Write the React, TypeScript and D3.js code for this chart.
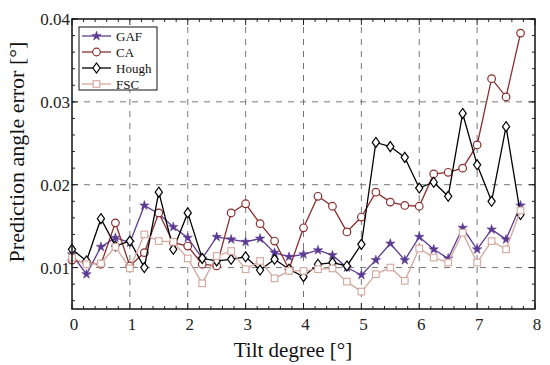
import * as d3 from "d3";

const tilt = d3.range(32).map((i) => i * 0.25);

const gaf = [
  0.0116, 0.0092, 0.0125, 0.0136, 0.013, 0.0175, 0.0165, 0.0149, 0.0136, 0.0111,
  0.0137, 0.0134, 0.0131, 0.0135, 0.0118, 0.0113, 0.0116, 0.0121, 0.0115, 0.01,
  0.0091, 0.0109, 0.0129, 0.0109, 0.0137, 0.0122, 0.0111, 0.0148, 0.0122, 0.0146,
  0.0134, 0.0175,
];
const ca = [
  0.0109, 0.0106, 0.0104, 0.0154, 0.0102, 0.0118, 0.0166, 0.013, 0.0126, 0.0104,
  0.0102, 0.0166, 0.0177, 0.0153, 0.0132, 0.0098, 0.0148, 0.0186, 0.0174, 0.0143,
  0.0161, 0.0191, 0.0179, 0.0175, 0.0174, 0.0213, 0.0215, 0.022, 0.0248, 0.0328,
  0.0306, 0.0383,
];
const hough = [
  0.0122, 0.0108, 0.0159, 0.0126, 0.0132, 0.01, 0.0191, 0.0122, 0.0166, 0.0111,
  0.0108, 0.011, 0.0113, 0.0097, 0.011, 0.0098, 0.0089, 0.0104, 0.0106, 0.0102,
  0.0128, 0.0251, 0.0246, 0.0233, 0.0196, 0.0203, 0.0186, 0.0286, 0.0224, 0.018,
  0.027, 0.0164,
];
const fsc = [
  0.0112, 0.0104, 0.0105, 0.0125, 0.0099, 0.014, 0.0132, 0.0131, 0.0111, 0.0081,
  0.0114, 0.012, 0.0098, 0.0108, 0.0087, 0.0096, 0.0096, 0.0098, 0.0099, 0.0083,
  0.0071, 0.0092, 0.01, 0.0084, 0.0123, 0.0112, 0.0106, 0.0142, 0.0106, 0.0132,
  0.0122, 0.0169,
];

const xTicks = [0, 1, 2, 3, 4, 5, 6, 7, 8];
const yTicks = [0.01, 0.02, 0.03, 0.04];

const series = [
  { name: "GAF", values: gaf, color: "#5b3a93", marker: "star" },
  { name: "CA", values: ca, color: "#8a2e2e", marker: "circle" },
  { name: "Hough", values: hough, color: "#000000", marker: "diamond" },
  { name: "FSC", values: fsc, color: "#d3a79e", marker: "square" },
];

const W = 550;
const H = 365;
const m = { left: 72, right: 15, top: 19, bottom: 56 };
const font = "'Liberation Serif', 'DejaVu Serif', serif";

const Marker = ({ type, x, y, color }: { type: string; x: number; y: number; color: string }) => {
  if (type === "star") {
    const p = d3.symbol().type(d3.symbolStar).size(28)();
    return <path d={p!} transform={`translate(${x},${y})`} fill={color} stroke={color} strokeWidth={0.5} />;
  }
  if (type === "circle") {
    return <circle cx={x} cy={y} r={3.8} fill="white" stroke={color} strokeWidth={1.2} />;
  }
  if (type === "diamond") {
    return (
      <path
        d={`M${x},${y - 5}L${x + 3.6},${y}L${x},${y + 5}L${x - 3.6},${y}Z`}
        fill="white"
        stroke={color}
        strokeWidth={1.2}
      />
    );
  }
  return <rect x={x - 3.3} y={y - 3.3} width={6.6} height={6.6} fill="white" stroke={color} strokeWidth={1.1} />;
};

const App = () => {
  const x = d3.scaleLinear().domain([0, 8]).range([m.left, W - m.right]);
  const y = d3.scaleLinear().domain([0.005, 0.04]).range([H - m.bottom, m.top]);
  const line = d3
    .line<number>()
    .x((_, i) => x(tilt[i]))
    .y((d) => y(d));

  const xMinor = d3.range(0, 8.01, 0.2);
  const yMinor = d3.range(0.006, 0.0401, 0.002);
  const x0 = x.range()[0];
  const x1 = x.range()[1];
  const y0 = y.range()[0];
  const y1 = y.range()[1];

  return (
    <svg width={W} height={H} style={{ position: "absolute", left: 0, top: 0, background: "white" }}>
      {/* grid */}
      {xTicks.slice(1, -1).map((t) => (
        <line key={"gx" + t} x1={x(t)} x2={x(t)} y1={y0} y2={y1} stroke="#777" strokeDasharray="6,6" strokeWidth={1} />
      ))}
      {yTicks.slice(0, -1).map((t) => (
        <line key={"gy" + t} x1={x0} x2={x1} y1={y(t)} y2={y(t)} stroke="#777" strokeDasharray="6,6" strokeWidth={1} />
      ))}

      {/* minor ticks */}
      {xMinor.map((t, i) => (
        <g key={"xm" + i} stroke="#222" strokeWidth={1}>
          <line x1={x(t)} x2={x(t)} y1={y0} y2={y0 - (i % 5 === 0 ? 6 : 3)} />
          <line x1={x(t)} x2={x(t)} y1={y1} y2={y1 + (i % 5 === 0 ? 6 : 3)} />
        </g>
      ))}
      {yMinor.map((t, i) => (
        <g key={"ym" + i} stroke="#222" strokeWidth={1}>
          <line x1={x0} x2={x0 + 3} y1={y(t)} y2={y(t)} />
          <line x1={x1} x2={x1 - 3} y1={y(t)} y2={y(t)} />
        </g>
      ))}
      {yTicks.map((t) => (
        <g key={"ym2" + t} stroke="#222" strokeWidth={1}>
          <line x1={x0} x2={x0 + 6} y1={y(t)} y2={y(t)} />
          <line x1={x1} x2={x1 - 6} y1={y(t)} y2={y(t)} />
        </g>
      ))}

      {/* series */}
      {series.map((s) => (
        <g key={s.name}>
          <path d={line(s.values)!} fill="none" stroke={s.color} strokeWidth={1.3} />
          {s.values.map((v, i) => (
            <Marker key={i} type={s.marker} x={x(tilt[i])} y={y(v)} color={s.color} />
          ))}
        </g>
      ))}

      <rect x={x0} y={y1} width={x1 - x0} height={y0 - y1} fill="none" stroke="#111" strokeWidth={1.5} />

      {/* tick labels */}
      {xTicks.map((t) => (
        <text key={"xl" + t} x={x(t) + 2} y={y0 + 21} textAnchor="middle" fontFamily={font} fontSize={17} fill="#222">
          {t}
        </text>
      ))}
      {yTicks.map((t) => (
        <text key={"yl" + t} x={x0 - 2} y={y(t) + 6} textAnchor="end" fontFamily={font} fontSize={17} fill="#222">
          {t.toFixed(2)}
        </text>
      ))}

      <text x={293} y={H - 8} textAnchor="middle" fontFamily={font} fontSize={21} fill="#111">
        Tilt degree [°]
      </text>
      <text
        transform={`translate(24,152) rotate(-90)`}
        textAnchor="middle"
        fontFamily={font}
        fontSize={22}
        fill="#111"
      >
        Prediction angle error [°]
      </text>

      {/* legend */}
      <g>
        <rect x={79} y={27} width={78} height={63} fill="white" stroke="#111" strokeWidth={1} />
        {series.map((s, i) => {
          const ly = 36 + i * 16;
          return (
            <g key={"lg" + s.name}>
              <line x1={82} x2={111} y1={ly} y2={ly} stroke={s.color} strokeWidth={1.3} />
              <Marker type={s.marker} x={96.5} y={ly} color={s.color} />
              <text x={116} y={ly + 4.5} fontFamily={font} fontSize={13} fill="#111">
                {s.name}
              </text>
            </g>
          );
        })}
      </g>
    </svg>
  );
};

export default App;
